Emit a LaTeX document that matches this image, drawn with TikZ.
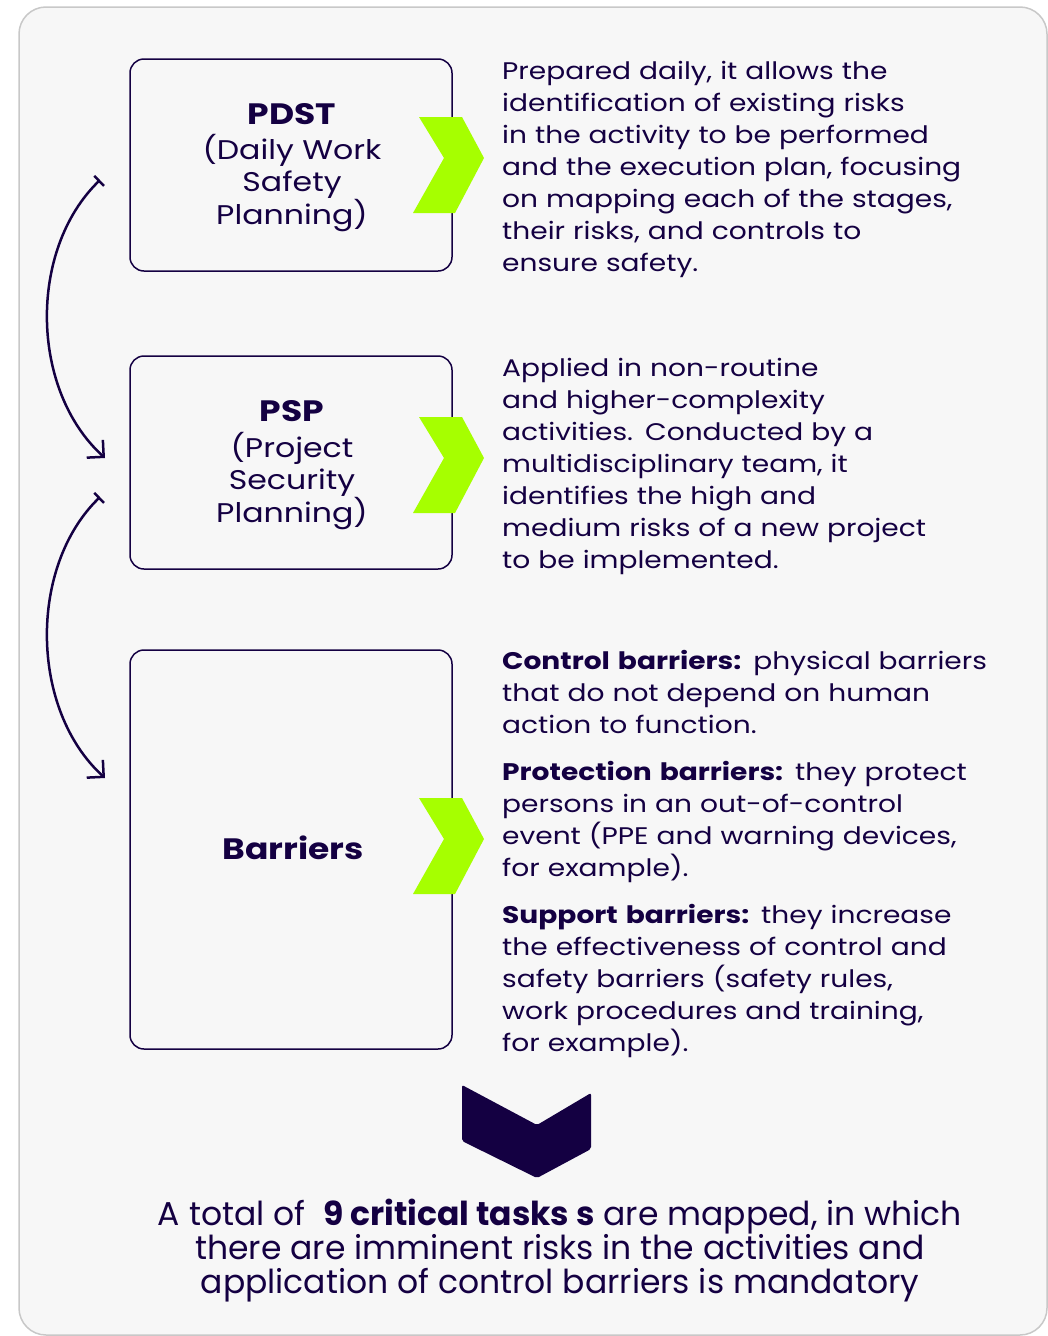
\documentclass[tikz,border=0pt]{standalone}
\usepackage{fontspec}
\setmainfont{Poppins}[FakeStretch=1.17]
\newfontfamily\plainfont{Poppins}
\usetikzlibrary{arrows.meta}

\definecolor{navy}{RGB}{20,0,66}
\definecolor{lime}{RGB}{166,255,0}
\definecolor{panel}{RGB}{247,247,247}
\definecolor{panelframe}{RGB}{200,200,200}

\begin{document}
\begin{tikzpicture}[x=1pt, y=-1pt,
    box/.style={draw=navy, line width=1.5pt, rounded corners=14pt, minimum width=322pt, inner sep=0pt},
    boxlabel/.style={align=center, text=navy, font=\fontsize{27}{32}\selectfont},
    boxtitle/.style={font=\fontsize{29.5}{32}\selectfont\bfseries},
    desc/.style={anchor=base west, text width=540pt, align=left, text=navy, inner sep=0pt,
      font=\fontsize{24}{32}\selectfont},
    flow/.style={draw=navy, line width=2.5pt, {Bar[width=14pt]}-{Straight Barb[length=12pt,width=24pt]}}]
  \useasboundingbox (0,0) rectangle (1048,1336);
  \draw[fill=panel, draw=panelframe, line width=1.5pt, rounded corners=27pt] (19,7) rectangle (1047,1335);

  % the three steps
  \node[box, minimum height=212pt] (pdst) at (291,165) {};
  \node[boxlabel] (pdstlabel) at (292,167.5)
    {{\fontsize{29.5}{32}\selectfont\bfseries PDST}\\[3pt](Daily Work\\Safety\\Planning)};
  \node[box, minimum height=213pt] (psp) at (291,462.5) {};
  \node[boxlabel] (psplabel) at (292,465.5)
    {{\fontsize{29.5}{32}\selectfont\bfseries PSP}\\[4pt](Project\\Security\\Planning)};
  \node[box, minimum height=399pt] (barriers) at (291,849.5) {};
  \node[boxlabel, boxtitle] (barrierslabel) at (293,848) {Barriers};

  \foreach \t in {117,417,798}
    \fill[lime] (419,\t) -- (462,\t) -- (484,\t+41) -- (455,\t+96) -- (413,\t+96) -- (444,\t+41) -- cycle;

  % descriptions
  \node[desc] (pdsttext) at (502,79) {Prepared daily, it allows the\\identification of existing risks\\in the activity to be performed\\and the execution plan, focusing\\on mapping each of the stages,\\their risks, and controls to\\ensure safety.};
  \node[desc] (psptext) at (502,376) {Applied in non-routine\\and higher-complexity\\activities. Conducted by a\\multidisciplinary team, it\\identifies the high and\\medium risks of a new project\\to be implemented.};
  \node[desc] (controltext) at (502,669) {\textbf{Control barriers:} physical barriers\\that do not depend on human\\action to function.};
  \node[desc] (protectiontext) at (502,780) {\textbf{Protection barriers:} they protect\\persons in an out-of-control\\event (PPE and warning devices,\\for example).};
  \node[desc] (supporttext) at (502,923) {\textbf{Support barriers:} they increase\\the effectiveness of control and\\safety barriers (safety rules,\\work procedures and training,\\for example).};

  % links between the steps
  \coordinate (pdstout) at (100,180);
  \coordinate (pspin) at (105,458);
  \coordinate (pspout) at (100,497);
  \coordinate (barriersin) at (105,778);
  \draw[flow] (pdstout) .. controls (28,250) and (30,390) .. (pspin);
  \draw[flow] (pspout) .. controls (28,567) and (30,710) .. (barriersin);

  \fill[navy, rounded corners=2pt] (462,1085) -- (537,1125) -- (591,1093) -- (591,1149) -- (537,1178) -- (462,1141) -- cycle;

  % base of the last line
  \node[anchor=base, align=center, text=navy, inner sep=0pt, font=\plainfont\fontsize{33}{34}\selectfont] (summary) at (560,1293)
    {A total of~ \textbf{9 critical tasks s} are mapped, in which\\there are imminent risks in the activities and\\application of control barriers is mandatory};
\end{tikzpicture}
\end{document}
